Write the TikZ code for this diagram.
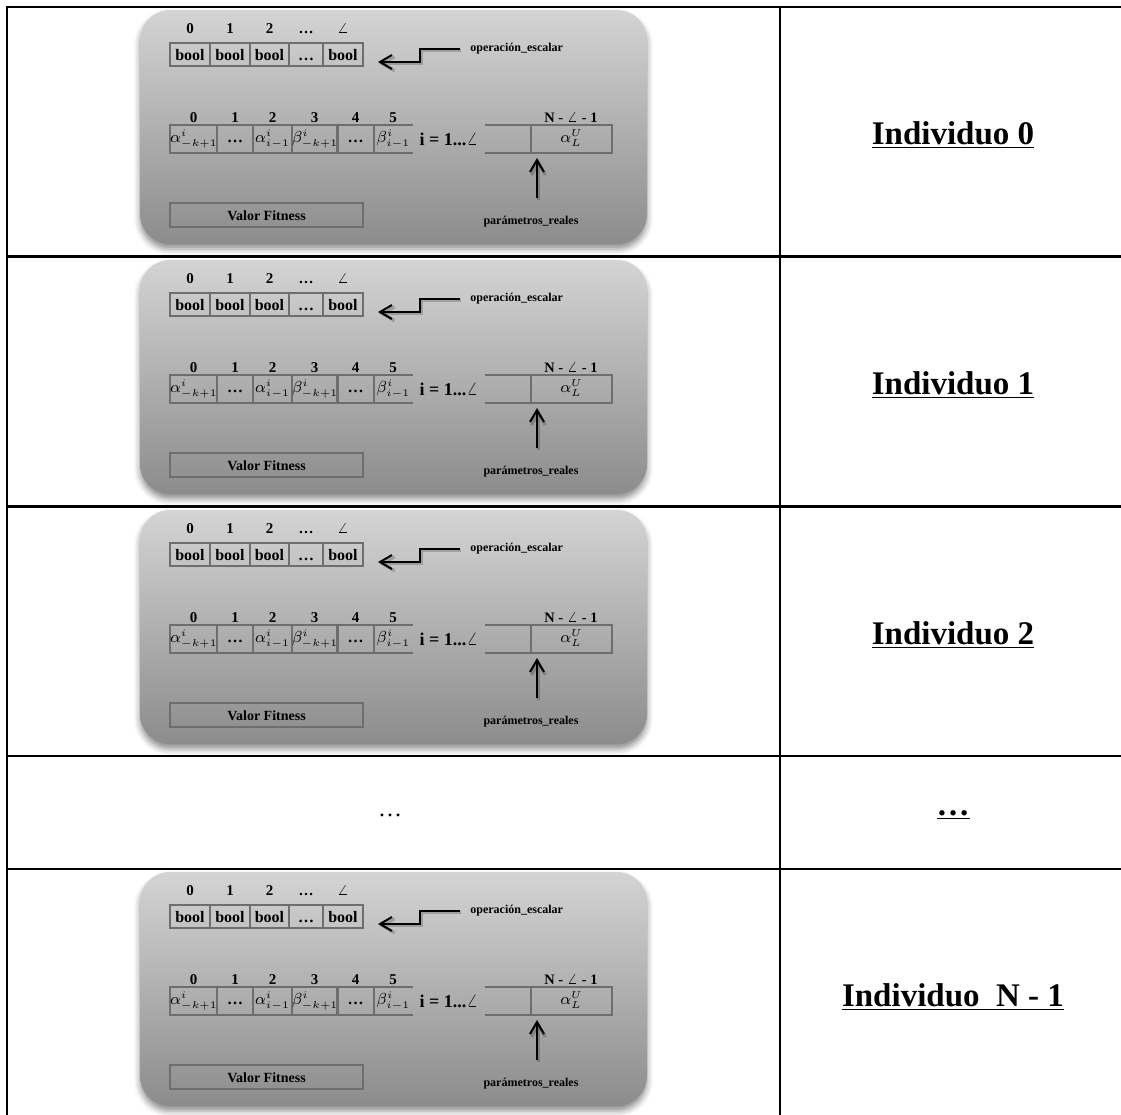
\documentclass[tikz,border=0pt]{standalone}
\usepackage{fontspec}
\setmainfont{Liberation Serif}
\usepackage{tikz}
\usetikzlibrary{arrows.meta,positioning,shadows.blur}

\definecolor{cellgray}{RGB}{110,110,110}
\definecolor{boxlight}{RGB}{212,212,212}
\definecolor{boxdark}{RGB}{140,140,140}

% gene value with tiny indices
\newcommand{\genval}[3]{$#1^{\scriptscriptstyle #2}_{\scriptscriptstyle #3}$}

\tikzset{
  rule/.style={line width=1.2pt},
  indbox/.style={rounded corners=15pt, top color=boxlight, bottom color=boxdark,
    minimum width=253.5pt, minimum height=117pt, inner sep=0pt,
    blur shadow={shadow xshift=0pt, shadow yshift=-2.5pt, shadow blur radius=3pt, shadow opacity=45}},
  gene/.style={draw=cellgray, line width=0.6pt, inner sep=0pt, outer sep=0pt, anchor=west,
    font=\fontsize{8}{9}\selectfont\bfseries, text height=5.6pt, text depth=0pt},
  greek/.style={gene, font=\fontsize{8}{9}\selectfont, text height=4.5pt, text depth=1.2pt},
  idx/.style={font=\fontsize{7.5}{8}\selectfont\bfseries, inner sep=0pt, text height=5pt, text depth=0pt},
  tag/.style={font=\fontsize{6}{7}\selectfont\bfseries, inner sep=0pt},
  arr/.style={-{Straight Barb[length=6pt,width=7pt]}, line width=1pt,
    preaction={draw=black, opacity=0.2, line width=1.6pt,
      transform canvas={shift={(0.7pt,-0.9pt)}}}},
  title/.style={font=\fontsize{16.5}{18}\selectfont\bfseries},
}

\begin{document}
\begin{tikzpicture}[x=0.5pt, y=-0.5pt]
  \clip (0,0) rectangle (1121,1115);

  % table rules
  \foreach \y in {7,256.5,506.5,756,869}
    \draw[rule] (6.4,\y) -- (1130,\y);
  \draw[rule] (7,6.4) -- (7,1130);
  \draw[rule] (780,6.4) -- (780,1130);

  % one block per individual
  \foreach \r/\k [count=\i] in {7/0, 257/1, 507/2, 869/{\ N - 1}} {
    \begin{scope}[shift={(0,\r)}]
      \node[indbox] (box\i) at (393.5,120) {};

      % boolean part
      \foreach \a/\b/\txt/\lbl [count=\j] in {170/210/bool/0, 210/250/bool/1, 250/289/bool/2,
          289/323/…/…, 323/363/bool/\ensuremath{\angle}} {
        \node[gene, minimum width={(\b-\a)*0.5pt}, minimum height=11.5pt] (bo\j-\i) at (\a,47.5) {\txt};
        \node[idx] (bon\j-\i) at ({(\a+\b)/2},21) {\lbl};
      }
      \node[tag, anchor=west] (opname\i) at (470,42) {operación\_escalar};
      \coordinate (optip\i) at (378,55);
      \draw[arr] ([xshift=-5pt]opname\i.west) -- ++(-40,0) |- (optip\i);

      % real part
      \foreach \a/\b/\txt/\lbl [count=\j] in {170/217/{\genval{\alpha}{i}{-k+1}}/0, 217/253/{\bfseries …}/1,
          253/292/{\genval{\alpha}{i}{i-1}}/2, 292/337/{\genval{\beta}{i}{-k+1}}/3, 337/374/{\bfseries …}/4} {
        \node[greek, minimum width={(\b-\a)*0.5pt}, minimum height=14pt] (ab\j-\i) at (\a,132) {\txt};
        \node[idx] (abn\j-\i) at ({(\a+\b)/2},110) {\lbl};
      }
      \node[greek, draw=none, minimum width=19.5pt, minimum height=14pt] (ab6-\i) at (374,132) {\genval{\beta}{i}{i-1}};
      \node[idx] (abn6-\i) at (393,110) {5};
      \draw[cellgray, line width=0.6pt] (ab6-\i.north east) -- (ab6-\i.north west) -- (ab6-\i.south west) -- (ab6-\i.south east);

      \node[idx, font=\fontsize{9}{10}\selectfont\bfseries] (range\i) at (449,133) {i = 1...\ensuremath{\angle}};

      \node[greek, minimum width=40.5pt, minimum height=14pt] (rv\i) at (531,132) {\genval{\alpha}{U}{L}};
      \draw[cellgray, line width=0.6pt] (rv\i.north west) -- ++(-46,0)
        (rv\i.south west) -- ++(-46,0);
      \node[idx, font=\fontsize{7.2}{8}\selectfont\bfseries] (rvn\i) at (571,110) {N - \ensuremath{\angle} - 1};

      \node[tag] (preal\i) at (531,215) {parámetros\_reales};
      \draw[arr] ([shift={(3pt,-22.5pt)}]rv\i.south west) -- ([shift={(3pt,-2.5pt)}]rv\i.south west);

      \node[gene, font=\fontsize{7}{8}\selectfont\bfseries, minimum width=96.5pt, minimum height=12pt] (fit\i) at (170,208) {Valor Fitness};

      \node[title] (ind\i) at (953,128) {\underline{Individuo \k}};
    \end{scope}
  }

  % row of dots
  \node[font=\fontsize{12}{14}\selectfont] (gapl) at (390,815) {…};
  \node[title] (gapr) at (953,815) {\underline{…}};
\end{tikzpicture}
\end{document}
